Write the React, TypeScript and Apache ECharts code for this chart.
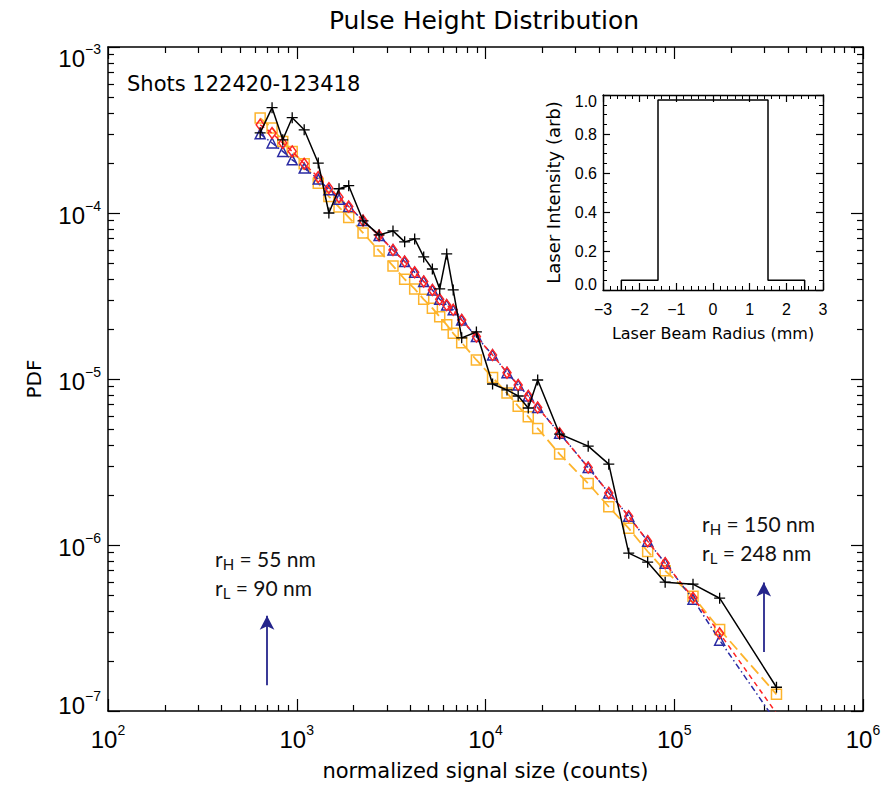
import React, { useEffect, useRef } from "react";
import * as echarts from "echarts";

// ---------- data ----------
const signal = [640, 740, 843, 946, 1095, 1300, 1480, 1675, 1885, 2245, 2730, 3235, 3730, 4215, 4705, 5230, 5720, 6230, 6745, 7480, 8950, 10900, 13000, 14900, 16850, 18900, 24700, 35000, 45000, 57400, 72300, 89500, 125700, 174000, 348000];

const pdfMeasured = [3.04e-4, 4.31e-4, 2.76e-4, 3.75e-4, 3.17e-4, 2.0e-4, 1.0e-4, 1.4e-4, 1.46e-4, 8.97e-5, 7.38e-5, 7.8e-5, 6.7e-5, 6.98e-5, 5.44e-5, 4.6e-5, 3.49e-5, 5.67e-5, 3.44e-5, 1.77e-5, 1.92e-5, 9.33e-6, 8.59e-6, 7.9e-6, 6.69e-6, 9.86e-6, 4.66e-6, 3.94e-6, 3.07e-6, 8.93e-7, 7.88e-7, 5.97e-7, 5.81e-7, 4.78e-7, 1.39e-7];

const pdfSquares = [3.73e-4, 3.25e-4, 2.7e-4, 2.35e-4, 1.98e-4, 1.51e-4, 1.257e-4, 1.085e-4, 9.41e-5, 7.59e-5, 5.91e-5, 4.8e-5, 3.99e-5, 3.49e-5, 3.02e-5, 2.67e-5, 2.37e-5, 2.12e-5, 1.885e-5, 1.655e-5, 1.302e-5, 1.021e-5, 8.23e-6, 6.85e-6, 5.93e-6, 5.04e-6, 3.53e-6, 2.35e-6, 1.7e-6, 1.26e-6, 9.14e-7, 7.0e-7, 4.91e-7, 3.1e-7, 1.26e-7];

const pdfDiamonds = [3.4e-4, 3.03e-4, 2.64e-4, 2.35e-4, 1.98e-4, 1.645e-4, 1.412e-4, 1.246e-4, 1.094e-4, 9.01e-5, 7.31e-5, 5.99e-5, 5.1e-5, 4.39e-5, 3.87e-5, 3.44e-5, 3.02e-5, 2.79e-5, 2.61e-5, 2.27e-5, 1.8e-5, 1.395e-5, 1.091e-5, 9.2e-6, 7.9e-6, 6.73e-6, 4.71e-6, 2.93e-6, 2.06e-6, 1.49e-6, 1.055e-6, 7.77e-7, 4.81e-7, 2.94e-7, 9.68e-8];

const pdfTriangles = [3.0e-4, 2.64e-4, 2.35e-4, 2.09e-4, 1.864e-4, 1.6e-4, 1.379e-4, 1.212e-4, 1.094e-4, 9.01e-5, 7.31e-5, 5.99e-5, 5.1e-5, 4.39e-5, 3.87e-5, 3.44e-5, 3.02e-5, 2.79e-5, 2.61e-5, 2.27e-5, 1.8e-5, 1.395e-5, 1.091e-5, 9.2e-6, 7.9e-6, 6.73e-6, 4.71e-6, 2.93e-6, 2.06e-6, 1.49e-6, 1.055e-6, 7.77e-7, 4.71e-7, 2.67e-7, 8.55e-8];

// inset: laser beam profile
const beamRadius = [-2.5, -2.5, -1.5, -1.5, 1.5, 1.5, 2.5, 2.5];
const beamIntensity = [0, 0.05, 0.05, 0.975, 0.975, 0.05, 0.05, 0];

// tick labels (exponents of ten)
const xDecades = [2, 3, 4, 5, 6];
const yDecades = [-7, -6, -5, -4, -3];

// arrows (data coordinates)
const arrowX = [696, 298000];
const arrowFrom = [1.43e-7, 2.27e-7];
const arrowTo = [3.75e-7, 5.95e-7];

// annotations
const annotSub = ["H", "L", "H", "L"];
const annotVal = ["55 nm", "90 nm", "150 nm", "248 nm"];

// ---------- styles ----------
const NARROW = "'Liberation Sans Narrow', 'Liberation Sans', Arial, sans-serif";
const LIB = "'Liberation Sans', Arial, sans-serif";
const SANS = "'DejaVu Sans', sans-serif";
const CAL = "Lato, 'Open Sans', sans-serif";
const ORANGE = "#FDB42C";
const RED = "#FF2424";
const BLUE = "#2B2BA3";
const ARROW = "#25258C";

const minus = (v: number) => (v < 0 ? "\u2212" + Math.abs(v) : String(v));

const minorLog = (from: number, to: number) => {
  const out: number[] = [];
  for (let n = from; n < to; n++) for (let k = 2; k <= 9; k++) out.push(n + Math.log10(k));
  return out;
};

export default function App() {
  const ref = useRef<HTMLDivElement>(null);

  useEffect(() => {
    document.body.style.margin = "0";
    const chart = echarts.init(ref.current!, null, { renderer: "svg" });

    const xMinor = minorLog(2, 6);
    const yMinor = minorLog(-7, -3);

    const decadeRich = {
      b: { fontSize: 24, fontFamily: NARROW, color: "#000", lineHeight: 28, verticalAlign: "bottom" },
      s: { fontSize: 14, fontFamily: NARROW, color: "#000", lineHeight: 14, verticalAlign: "top" },
      g: { fontSize: 8, lineHeight: 18 },
      h: { fontSize: 8, lineHeight: 16 },
    };
    const line = { show: true, onZero: false, lineStyle: { color: "#000", width: 1.5 } };
    const noLine = { show: false, onZero: false };
    const tickStyle = { color: "#000", width: 1.2 };

    const mainTickX = (pos: string, major: boolean, labels: boolean) => ({
      type: "value",
      gridIndex: 0,
      position: pos,
      min: 2,
      max: 6,
      axisLine: major ? line : noLine,
      axisTick: { show: true, inside: true, length: major ? 12 : 6, customValues: major ? xDecades : xMinor, lineStyle: tickStyle },
      axisLabel: labels
        ? { show: true, customValues: xDecades, margin: 12, formatter: (v: number) => `{b|10}{s|${minus(Math.round(v))}}`, rich: decadeRich }
        : { show: false },
      splitLine: { show: false },
      ...(labels
        ? {
            name: "normalized signal size (counts)",
            nameLocation: "middle",
            nameGap: 49,
            nameTextStyle: { fontFamily: SANS, fontSize: 21, color: "#000" },
          }
        : {}),
    });

    const mainTickY = (pos: string, major: boolean, labels: boolean) => ({
      type: "value",
      gridIndex: 0,
      position: pos,
      min: -7,
      max: -3,
      axisLine: major ? line : noLine,
      axisTick: { show: true, inside: true, length: major ? 12 : 6, customValues: major ? yDecades : yMinor, lineStyle: tickStyle },
      axisLabel: labels
        ? {
            show: true,
            customValues: yDecades,
            margin: 7,
            formatter: (v: number) => {
              const r = Math.round(v);
              const t = `{b|10}{s|${minus(r)}}`;
              if (r === -3) return `{g| }\n${t}`;
              if (r === -7) return `${t}\n{h| }`;
              return t;
            },
            rich: decadeRich,
          }
        : { show: false },
      splitLine: { show: false },
      ...(labels
        ? {
            name: "PDF",
            nameLocation: "middle",
            nameGap: 64,
            nameTextStyle: { fontFamily: SANS, fontSize: 20, color: "#000" },
          }
        : {}),
    });

    const insetRich = {
      n: { fontSize: 16, fontFamily: LIB, color: "#000", lineHeight: 18 },
      g: { fontSize: 8, lineHeight: 12 },
    };
    const insetLine = { show: true, onZero: false, lineStyle: { color: "#000", width: 1.4 } };

    const insetX = (pos: string, labels: boolean) => ({
      type: "value",
      gridIndex: 1,
      position: pos,
      min: -3,
      max: 3,
      interval: 1,
      axisLine: insetLine,
      axisTick: { show: true, inside: true, length: 7, lineStyle: tickStyle },
      minorTick: { show: true, splitNumber: 5, length: 4, lineStyle: { color: "#000", width: 1 } },
      axisLabel: labels
        ? { show: true, margin: 11, fontSize: 16, fontFamily: LIB, color: "#000", formatter: (v: number) => minus(Math.round(v)) }
        : { show: false },
      splitLine: { show: false },
      ...(labels
        ? {
            name: "Laser Beam Radius (mm)",
            nameLocation: "middle",
            nameGap: 35,
            nameTextStyle: { fontFamily: SANS, fontSize: 16, color: "#000" },
          }
        : {}),
    });

    const insetY = (pos: string, labels: boolean) => ({
      type: "value",
      gridIndex: 1,
      position: pos,
      min: 0,
      max: 1,
      interval: 0.2,
      axisLine: insetLine,
      axisTick: { show: true, inside: true, length: 7, lineStyle: tickStyle },
      minorTick: { show: true, splitNumber: 4, length: 4, lineStyle: { color: "#000", width: 1 } },
      axisLabel: labels
        ? {
            show: true,
            margin: 6,
            formatter: (v: number) => {
              const t = `{n|${v.toFixed(1)}}`;
              if (Math.abs(v - 1) < 1e-6) return `{g| }\n${t}`;
              if (Math.abs(v) < 1e-6) return `${t}\n{g| }`;
              return t;
            },
            rich: insetRich,
          }
        : { show: false },
      splitLine: { show: false },
      ...(labels
        ? {
            name: "Laser Intensity (arb)",
            nameLocation: "middle",
            nameGap: 41,
            nameTextStyle: { fontFamily: SANS, fontSize: 18, color: "#000" },
          }
        : {}),
    });

    const pts = (ys: number[]) => signal.map((x, i) => [x, ys[i]]);
    const hollow = (c: string, w = 1.5) => ({ color: "transparent", borderColor: c, borderWidth: w });

    const annotPos = [
      [215, 558],
      [215, 587],
      [702, 523],
      [702, 552],
    ];

    const option: any = {
      animation: false,
      backgroundColor: "#fff",
      title: {
        text: "Pulse Height Distribution",
        left: 484,
        top: 8,
        textAlign: "center",
        padding: 0,
        textStyle: { fontFamily: SANS, fontSize: 25, fontWeight: "normal", color: "#000" },
      },
      grid: [
        { left: 108, right: 25, top: 47, bottom: 75 },
        { left: 603, top: 95, width: 220, height: 195 },
      ],
      xAxis: [
        { type: "log", gridIndex: 0, min: 100, max: 1e6, logBase: 10, show: false },
        mainTickX("bottom", true, true),
        mainTickX("bottom", false, false),
        mainTickX("top", true, false),
        mainTickX("top", false, false),
        insetX("bottom", true),
        insetX("top", false),
      ],
      yAxis: [
        { type: "log", gridIndex: 0, min: 1e-7, max: 1e-3, logBase: 10, show: false },
        mainTickY("left", true, true),
        mainTickY("left", false, false),
        mainTickY("right", true, false),
        mainTickY("right", false, false),
        insetY("left", true),
        insetY("right", false),
      ],
      series: [
        {
          type: "line",
          name: "squares",
          xAxisIndex: 0,
          yAxisIndex: 0,
          data: pts(pdfSquares),
          symbol: "rect",
          symbolSize: 10,
          showAllSymbol: true,
          clip: true,
          lineStyle: { color: ORANGE, width: 1.8, type: [11, 5] },
          itemStyle: hollow(ORANGE),
          emphasis: { disabled: true },
          z: 2,
        },
        {
          type: "line",
          name: "triangles",
          xAxisIndex: 0,
          yAxisIndex: 0,
          data: pts(pdfTriangles),
          symbol: "triangle",
          symbolSize: 10,
          showAllSymbol: true,
          clip: true,
          lineStyle: { color: BLUE, width: 1.5, type: [6, 3, 1.5, 3] },
          itemStyle: hollow(BLUE),
          emphasis: { disabled: true },
          z: 3,
        },
        {
          type: "line",
          name: "diamonds",
          xAxisIndex: 0,
          yAxisIndex: 0,
          data: pts(pdfDiamonds),
          symbol: "diamond",
          symbolSize: [8, 11],
          showAllSymbol: true,
          clip: true,
          lineStyle: { color: RED, width: 1.5, type: [5, 4] },
          itemStyle: hollow(RED),
          emphasis: { disabled: true },
          z: 4,
        },
        {
          type: "line",
          name: "measured",
          xAxisIndex: 0,
          yAxisIndex: 0,
          data: pts(pdfMeasured),
          symbol: "path://M5 0V10M0 5H10",
          symbolSize: 11,
          symbolKeepAspect: true,
          showAllSymbol: true,
          clip: true,
          lineStyle: { color: "#000", width: 1.5 },
          itemStyle: hollow("#000", 1.3),
          emphasis: { disabled: true },
          z: 5,
          markLine: {
            silent: true,
            symbol: ["none", "arrow"],
            symbolSize: [11, 14],
            label: { show: false },
            emphasis: { disabled: true },
            lineStyle: { color: ARROW, width: 1.8, type: "solid" },
            data: arrowX.map((x, i) => [{ coord: [x, arrowFrom[i]] }, { coord: [x, arrowTo[i]] }]),
          },
        },
        {
          type: "line",
          name: "beam profile",
          xAxisIndex: 5,
          yAxisIndex: 5,
          data: beamRadius.map((x, i) => [x, beamIntensity[i]]),
          symbol: "none",
          lineStyle: { color: "#000", width: 1.5 },
          emphasis: { disabled: true },
          z: 5,
        },
      ],
      graphic: [
        {
          type: "text",
          x: 127,
          y: 84,
          style: { text: "Shots 122420-123418", fontFamily: SANS, fontSize: 21, fill: "#000", align: "left", verticalAlign: "middle" },
        },
        ...annotSub.map((s, i) => ({
          type: "text",
          x: annotPos[i][0],
          y: annotPos[i][1],
          style: {
            text: `{r|r}{u|${s}}{r| = ${annotVal[i]}}`,
            align: "left",
            verticalAlign: "middle",
            rich: {
              r: { fontSize: 21, fontFamily: CAL, fill: "#111", lineHeight: 26 },
              u: { fontSize: 15, fontFamily: CAL, fill: "#111", lineHeight: 15, verticalAlign: "bottom" },
            },
          },
        })),
      ],
    };

    chart.setOption(option);
    return () => chart.dispose();
  }, []);

  return <div ref={ref} style={{ width: 888, height: 786 }} />;
}
